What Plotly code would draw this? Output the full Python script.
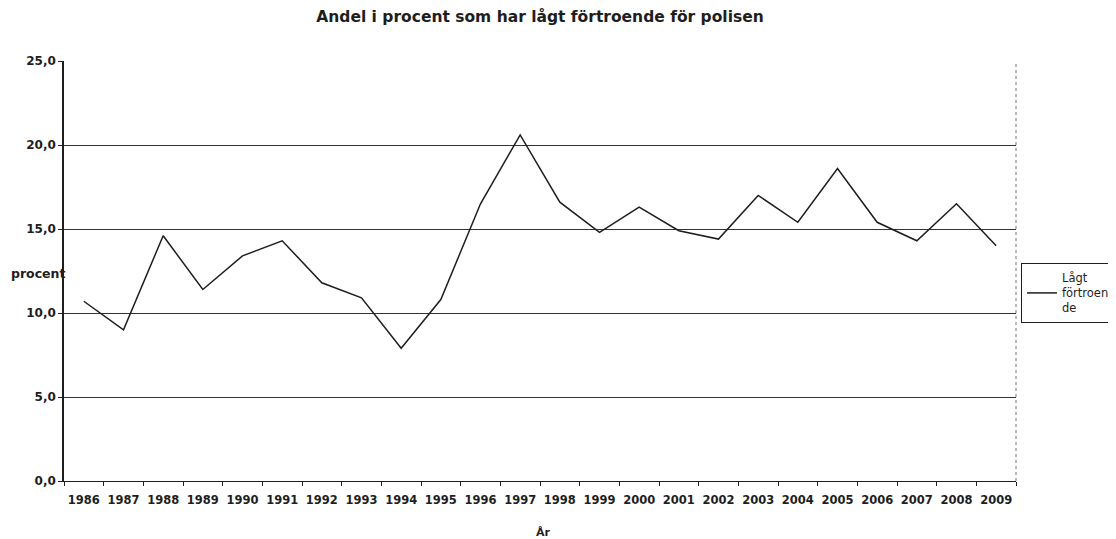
import plotly.graph_objects as go

years = [str(y) for y in range(1986, 2010)]
lagt_fortroende = [10.7, 9.0, 14.6, 11.4, 13.4, 14.3, 11.8, 10.9, 7.9, 10.8,
                   16.5, 20.6, 16.6, 14.8, 16.3, 14.9, 14.4, 17.0, 15.4, 18.6,
                   15.4, 14.3, 16.5, 14.0]
y_ticks = [0, 5, 10, 15, 20, 25]

FONT = "DejaVu Sans, Arial, sans-serif"
INK = "#1e1e1e"

# page body has an 8px default margin; size the figure so the plot lands where the reference has it
W, H = 1108, 531
L, T = 64 - 8, 61 - 8
R = W - (1016 - 8)
B = H - (481 - 8)
PW = W - L - R
PH = H - T - B

fig = go.Figure()
fig.add_trace(go.Scatter(
    x=years, y=lagt_fortroende, mode="lines",
    name="Lågt<br>förtroen<br>de",
    line=dict(color=INK, width=1.5),
))

fig.update_layout(
    width=W, height=H,
    margin=dict(l=L, r=R, t=T, b=B, autoexpand=False),
    paper_bgcolor="white", plot_bgcolor="white",
    separators=", ",
    font=dict(family=FONT, size=11, color=INK),
    title=dict(text="<b>Andel i procent som har lågt förtroende för polisen</b>",
               x=0.5, xref="paper", xanchor="center", y=1 - 9 / H, yanchor="middle",
               font=dict(size=15.5, family=FONT, color=INK)),
    showlegend=True,
    legend=dict(x=1 + 5 / PW, xanchor="left", y=(481 - 293) / 420, yanchor="middle",
                bordercolor=INK, borderwidth=1, bgcolor="white",
                font=dict(size=11.5, family=FONT, color=INK),
                tracegroupgap=0),
    xaxis=dict(type="category", range=[-0.5, len(years) - 0.5],
               showgrid=False, showline=True, linecolor=INK, linewidth=1,
               ticks="outside", ticklen=4, tickcolor=INK, tickson="boundaries",
               ticklabelstandoff=8, tickangle=0,
               tickfont=dict(size=11.5, family=FONT, color=INK, weight="bold"),
               zeroline=False),
    yaxis=dict(range=[0, 25], tickvals=y_ticks, tickformat=".1f",
               showgrid=True, gridcolor="#333333", gridwidth=1,
               showline=True, linecolor=INK, linewidth=1.5,
               ticks="outside", ticklen=4, tickcolor=INK,
               tickfont=dict(size=12, family=FONT, color=INK, weight="bold"),
               zeroline=False),
)

# dotted right border of the plot area
fig.add_shape(type="line", xref="paper", yref="paper", x0=1, x1=1, y0=0, y1=1,
              line=dict(color="#777777", width=1, dash="dot"))

fig.add_annotation(text="<b>procent</b>", xref="paper", yref="paper",
                   x=(38 - 64) / PW, y=(481 - 273) / 420, xanchor="center", yanchor="middle",
                   showarrow=False, font=dict(size=12.5, family=FONT, color=INK))
fig.add_annotation(text="<b>År</b>", xref="paper", yref="paper",
                   x=(543 - 64) / PW, y=(481 - 532) / 420, xanchor="center", yanchor="middle",
                   showarrow=False, font=dict(size=11, family=FONT, color=INK))

fig.write_html("out.html")
